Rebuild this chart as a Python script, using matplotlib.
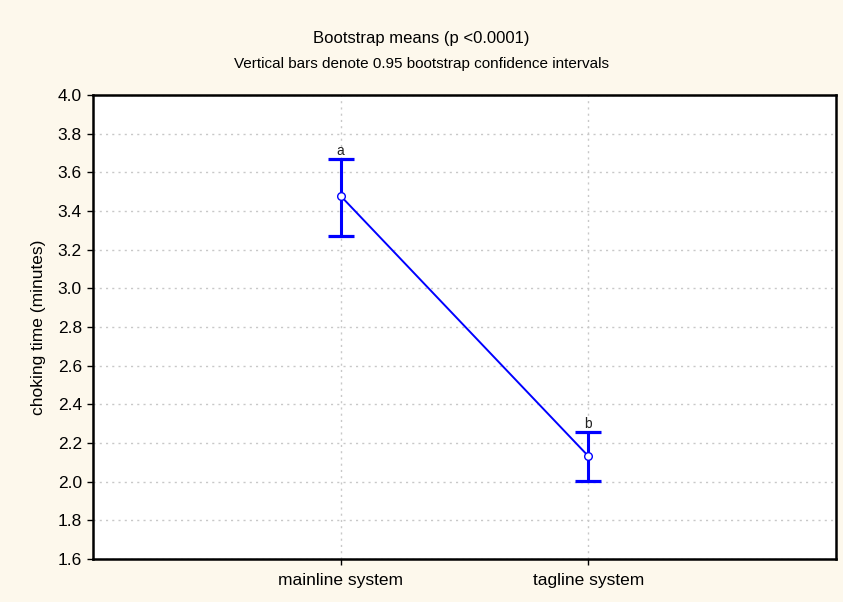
import matplotlib
matplotlib.use("Agg")
import matplotlib.pyplot as plt

# bootstrap means and 0.95 confidence limits per system
systems = ['mainline system', 'tagline system']
means = [3.478, 2.132]
ci_low = [3.270, 2.003]
ci_high = [3.669, 2.257]
groups = ['a', 'b']
yticks = [1.6, 1.8, 2.0, 2.2, 2.4, 2.6, 2.8, 3.0, 3.2, 3.4, 3.6, 3.8, 4.0]

plt.rcParams['font.family'] = ['Liberation Sans', 'DejaVu Sans']
bg = '#fdf8ec'
blue = '#0000ff'

fig = plt.figure(figsize=(8.43, 6.02), dpi=100, facecolor=bg)
ax = fig.add_axes([93/843, 1-559/602, (836-93)/843, (559-95)/602])
ax.set_facecolor('white')

xs = [1, 2]
err = [[m - lo for m, lo in zip(means, ci_low)],
       [hi - m for m, hi in zip(means, ci_high)]]
# whiskers first, then the mean line with open markers on top
ax.errorbar(xs, means, yerr=err, fmt='none', ecolor=blue, elinewidth=2.2,
            capsize=9.5, capthick=2.3, zorder=3)
ax.plot(xs, means, color=blue, lw=1.4, marker='o', ms=5.5, mfc='white',
        mec=blue, mew=1, zorder=4)

for x, hi, g in zip(xs, ci_high, groups):
    ax.text(x, hi + 0.005, g, ha='center', va='bottom', fontsize=10, color='#222222')

ax.set_xlim(0, 3)
ax.set_ylim(1.6, 4.0)
ax.set_xticks(xs)
ax.set_xticklabels(systems, fontsize=12.5)
ax.set_yticks(yticks)
ax.set_yticklabels([f'{v:.1f}' for v in yticks], fontsize=12.5)
ax.set_ylabel('choking time (minutes)', fontsize=12.5, va='center')
ax.yaxis.set_label_coords((39-93)/743, 0.5)
ax.grid(True, color='#c8c8c8', ls=(0, (1.5, 3)), lw=1)
ax.set_axisbelow(True)
ax.tick_params(direction='out', length=4, width=1, color='black', pad=4)
ax.tick_params(axis='x', pad=6)
for s in ax.spines.values():
    s.set_linewidth(1.8)

fig.text(0.5, 1-38/602, 'Bootstrap means (p <0.0001)', ha='center', va='center', fontsize=12)
fig.text(0.5, 1-64/602, 'Vertical bars denote 0.95 bootstrap confidence intervals',
         ha='center', va='center', fontsize=11)

fig.savefig('out.png', dpi=100, facecolor=bg)
